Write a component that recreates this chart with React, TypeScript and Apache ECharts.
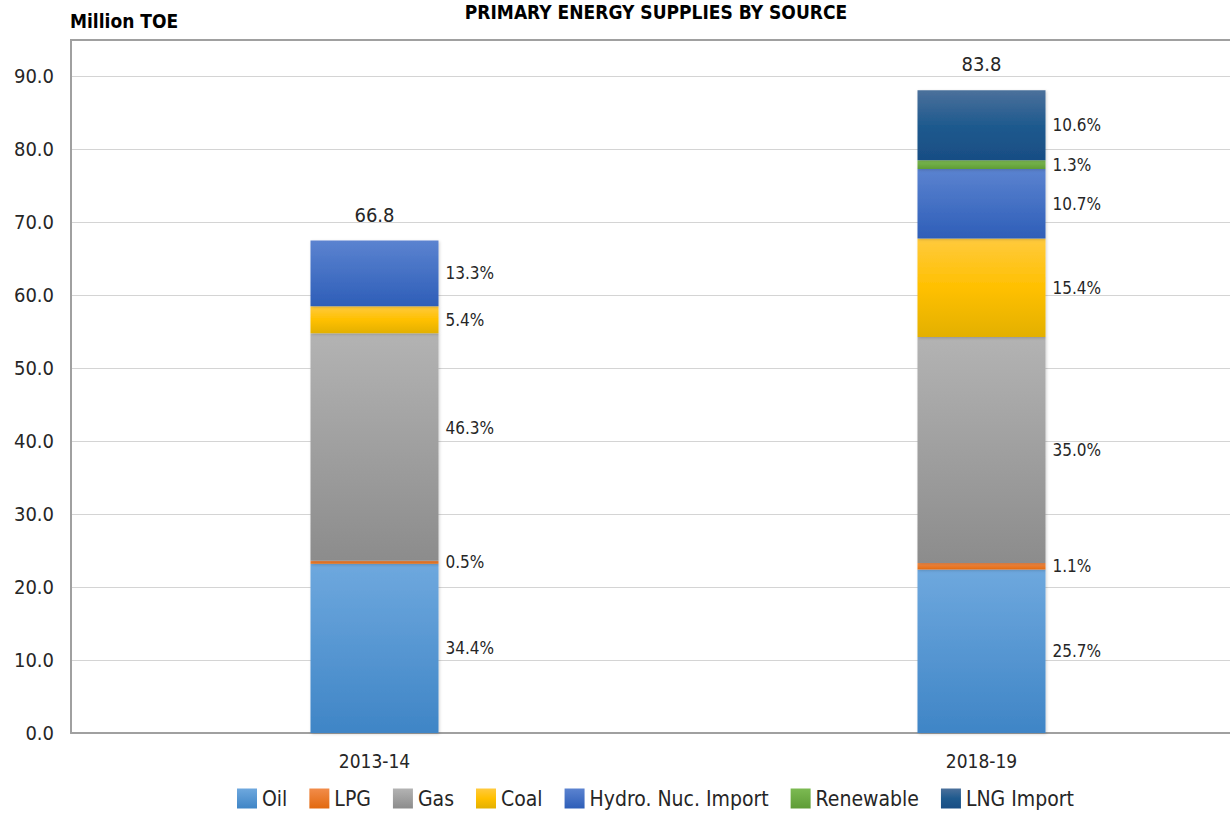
import React, { useEffect, useRef } from "react";
import * as echarts from "echarts";

const categories = ["2013-14", "2018-19"];
const oil = [23.2, 22.4];
const lpg = [0.4, 0.9];
const gas = [31.2, 31.0];
const coal = [3.7, 13.5];
const hydro = [9.0, 9.5];
const renewable: (number | string)[] = ["-", 1.2];
const lngImport: (number | string)[] = ["-", 9.6];
const totals = ["66.8", "83.8"];

const pctOil = ["34.4%", "25.7%"];
const pctLpg = ["0.5%", "1.1%"];
const pctGas = ["46.3%", "35.0%"];
const pctCoal = ["5.4%", "15.4%"];
const pctHydro = ["13.3%", "10.7%"];
const pctRenewable = ["", "1.3%"];
const pctLng = ["", "10.6%"];

const yTicks = { min: 0, max: 95, interval: 10 };

const FONT = "DejaVu Sans Condensed";

function grad(top: string, bottom: string, mid?: string) {
  const stops = mid
    ? [
        { offset: 0, color: top },
        { offset: 0.5, color: mid },
        { offset: 1, color: bottom },
      ]
    : [
        { offset: 0, color: top },
        { offset: 1, color: bottom },
      ];
  return new echarts.graphic.LinearGradient(0, 0, 0, 1, stops);
}

export default function App() {
  const ref = useRef<HTMLDivElement>(null);
  useEffect(() => {
    if (!ref.current) return;
    const chart = echarts.init(ref.current, null, { renderer: "svg" });

    const mk = (
      name: string,
      data: (number | string)[],
      pcts: string[],
      color: any,
      offsets?: ([number, number] | null)[]
    ) => ({
      name,
      type: "bar",
      stack: "total",
      barWidth: 128,
      data: data.map((v, i) => {
        const item: any = { value: v };
        if (offsets && offsets[i]) item.label = { offset: offsets[i] };
        return item;
      }),
      itemStyle: {
        color,
        shadowBlur: 3,
        shadowColor: "rgba(0,0,0,0.18)",
        shadowOffsetX: 1,
        shadowOffsetY: 1,
      },
      label: {
        show: true,
        position: "right",
        distance: 7,
        formatter: (p: any) => pcts[p.dataIndex],
        fontFamily: FONT,
        fontSize: 17,
        color: "#262626",
      },
      emphasis: { disabled: true },
    });

    const series: any[] = [
      mk("Oil", oil, pctOil, grad("#6ea8de", "#3f85c6")),
      mk("LPG", lpg, pctLpg, grad("#f28c4a", "#e2690f")),
      mk("Gas", gas, pctGas, grad("#b3b3b3", "#8c8c8c"), [[0, -19], null]),
      mk("Coal", coal, pctCoal, grad("#ffca3e", "#e3b000", "#ffc000")),
      mk("Hydro. Nuc. Import", hydro, pctHydro, grad("#5b83d0", "#2e5eb8")),
      mk("Renewable", renewable, pctRenewable, grad("#7cba52", "#5e9c36")),
      mk("LNG Import", lngImport, pctLng, grad("#4b709b", "#184d84", "#1f5a8e")),
      {
        name: "Total",
        type: "bar",
        stack: "total",
        barWidth: 128,
        data: [0, 0],
        itemStyle: { color: "rgba(0,0,0,0)" },
        label: {
          show: true,
          position: "top",
          distance: 16,
          formatter: (p: any) => totals[p.dataIndex],
          fontFamily: FONT,
          fontSize: 20,
          color: "#262626",
        },
        emphasis: { disabled: true },
      },
    ];

    chart.setOption({
      animation: false,
      title: [
        {
          text: "PRIMARY ENERGY SUPPLIES BY SOURCE",
          left: 656,
          textAlign: "center",
          top: 2,
          padding: 0,
          textStyle: { fontFamily: FONT, fontSize: 19, fontWeight: "bold", color: "#000" },
        },
        {
          text: "Million TOE",
          left: 70,
          top: 11,
          padding: 0,
          textStyle: { fontFamily: FONT, fontSize: 19, fontWeight: "bold", color: "#000" },
        },
      ],
      legend: {
        data: ["Oil", "LPG", "Gas", "Coal", "Hydro. Nuc. Import", "Renewable", "LNG Import"],
        left: 237,
        top: 788,
        padding: 0,
        itemWidth: 20,
        itemHeight: 20,
        itemGap: 22,
        icon: "rect",
        textStyle: { fontFamily: FONT, fontSize: 21, color: "#262626" },
      },
      grid: { left: 71, width: 1214, top: 40, bottom: 80, containLabel: false },
      xAxis: {
        type: "category",
        data: categories,
        axisLine: { show: true, lineStyle: { color: "#a0a0a0", width: 2 } },
        axisTick: { show: false },
        axisLabel: { fontFamily: FONT, fontSize: 19, color: "#262626", margin: 18 },
      },
      yAxis: {
        type: "value",
        min: yTicks.min,
        max: yTicks.max,
        interval: yTicks.interval,
        axisLine: { show: true, lineStyle: { color: "#a0a0a0", width: 2 } },
        axisTick: { show: false },
        axisLabel: {
          fontFamily: FONT,
          fontSize: 20,
          color: "#262626",
          margin: 17,
          showMaxLabel: false,
          formatter: (v: number) => v.toFixed(1),
        },
        splitLine: { show: true, lineStyle: { color: "#d4d4d4", width: 1 } },
      },
      graphic: [
        {
          type: "line",
          shape: { x1: 70, y1: 40, x2: 1290, y2: 40 },
          style: { stroke: "#a0a0a0", lineWidth: 2 },
          z: 10,
        },
      ],
      series,
    });
    return () => chart.dispose();
  }, []);
  return (
    <div
      ref={ref}
      style={{ position: "fixed", left: 0, top: 0, width: 1290, height: 813, background: "#fff" }}
    />
  );
}
